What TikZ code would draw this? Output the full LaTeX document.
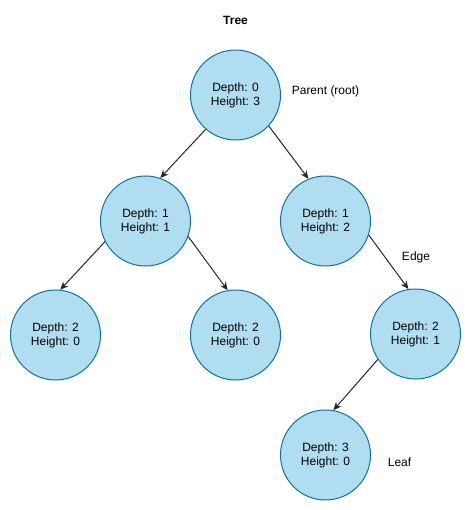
\documentclass[tikz,border=0pt]{standalone}
\usepackage{fontspec}
\setmainfont{Liberation Sans}
\usetikzlibrary{arrows.meta}
\definecolor{nodefill}{RGB}{177,221,240}
\definecolor{nodeline}{RGB}{16,115,158}
\tikzset{
  treenode/.style={circle, draw=nodeline, fill=nodefill, line width=1pt, minimum size=90pt, inner sep=0pt, align=center, font=\fontsize{12}{14}\selectfont},
  lbl/.style={font=\fontsize{12}{14}\selectfont, inner sep=0pt},
  edge/.style={draw=black!85, line width=1pt, -{Stealth[length=8pt,width=7pt,inset=2.5pt]}}
}
\begin{document}
\begin{tikzpicture}[x=1pt,y=-1pt]
\useasboundingbox (0,0) rectangle (471,510);
\node[lbl, font=\bfseries\fontsize{12}{14}\selectfont] (title) at (235.5,20) {Tree};
\node[treenode] (root) at (235.5,95) {Depth: 0\\Height: 3};
\node[treenode] (c1) at (145.5,221) {Depth: 1\\Height: 1};
\node[treenode] (c2) at (325.5,221) {Depth: 1\\Height: 2};
\node[treenode] (l1) at (55.5,335) {Depth: 2\\Height: 0};
\node[treenode] (l2) at (235.5,335) {Depth: 2\\Height: 0};
\node[treenode] (d2) at (415.5,334) {Depth: 2\\Height: 1};
\node[treenode] (leaf) at (325.5,455) {Depth: 3\\Height: 0};
\node[lbl] (parentlbl) at (325.5,91) {Parent (root)};
\node[lbl] (edgelbl) at (416,257) {Edge};
\node[lbl] (leaflbl) at (399.5,462) {Leaf};
\draw[edge] (root.229.7) -- (c1.71);
\draw[edge] (root.317) -- (c2.112);
\draw[edge] (c1.207) -- (l1.84);
\draw[edge] (c1.340) -- (l2.100);
\draw[edge] (c2.342) -- (d2.99);
\draw[edge] (d2.214) -- (leaf.80);
\end{tikzpicture}
\end{document}
